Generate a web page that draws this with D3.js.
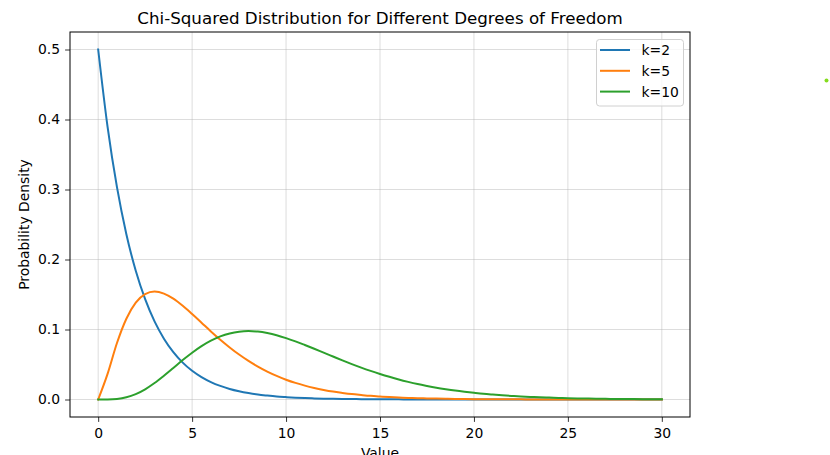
<!DOCTYPE html>
<html><head><meta charset="utf-8">
<script src="https://cdn.jsdelivr.net/npm/d3@7"></script>
<style>body{margin:0;background:#fff;} svg{display:block;font-family:"DejaVu Sans",sans-serif;}</style>
</head><body><svg id="c" width="830" height="455"></svg>
<script>
const xValues = [0,0.5,1,1.5,2,2.5,3,3.5,4,4.5,5,5.5,6,6.5,7,7.5,8,8.5,9,9.5,10,10.5,11,11.5,12,12.5,13,13.5,14,14.5,15,15.5,16,16.5,17,17.5,18,18.5,19,19.5,20,20.5,21,21.5,22,22.5,23,23.5,24,24.5,25,25.5,26,26.5,27,27.5,28,28.5,29,29.5,30];
const k2 = [0.5,0.3894,0.3033,0.2362,0.1839,0.1433,0.1116,0.0869,0.0677,0.0527,0.0410,0.0320,0.0249,0.0194,0.0151,0.0118,0.0092,0.0071,0.0056,0.0043,0.0034,0.0026,0.0020,0.0016,0.0012,0.0010,0.0008,0.0006,0.0005,0.0004,0.0003,0.0002,0.0002,0.0001,0.0001,0.0001,0.0001,0,0,0,0,0,0,0,0,0,0,0,0,0,0,0,0,0,0,0,0,0,0,0,0];
const k5 = [0,0.0366,0.0807,0.1154,0.1384,0.1506,0.1542,0.1513,0.1440,0.1338,0.1220,0.1097,0.0973,0.0854,0.0744,0.0642,0.0551,0.0470,0.0399,0.0337,0.0283,0.0237,0.0198,0.0165,0.0137,0.0113,0.0094,0.0077,0.0064,0.0052,0.0043,0.0035,0.0029,0.0023,0.0019,0.0015,0.0013,0.0010,0.0008,0.0007,0.0005,0.0004,0.0004,0.0003,0.0002,0.0002,0.0001,0.0001,0.0001,0.0001,0,0,0,0,0,0,0,0,0,0,0];
const k10 = [0,0.0001,0.0008,0.0031,0.0077,0.0146,0.0235,0.0340,0.0451,0.0563,0.0668,0.0762,0.0840,0.0901,0.0944,0.0969,0.0977,0.0970,0.0949,0.0918,0.0877,0.0831,0.0779,0.0725,0.0669,0.0614,0.0559,0.0506,0.0456,0.0409,0.0365,0.0324,0.0286,0.0252,0.0221,0.0194,0.0169,0.0147,0.0127,0.0110,0.0095,0.0081,0.0070,0.0060,0.0051,0.0043,0.0037,0.0031,0.0027,0.0022,0.0019,0.0016,0.0013,0.0011,0.0009,0.0008,0.0007,0.0006,0.0005,0.0004,0.0003];
const seriesNames = ["k=2","k=5","k=10"];
const seriesColors = ["#1f77b4","#ff7f0e","#2ca02c"];
const xTicks = [0,5,10,15,20,25,30];
const yTicks = [0.0,0.1,0.2,0.3,0.4,0.5];
const titleText = "Chi-Squared Distribution for Different Degrees of Freedom";
const xLabel = "Value", yLabel = "Probability Density";

const svg = d3.select("#c");
const L=70, R=690, T=32, B=417;
const FS = 13.9;
const x = d3.scaleLinear().domain([-1.5,31.5]).range([L,R]);
const y = d3.scaleLinear().domain([-0.025,0.525]).range([B,T]);

// grid
const g = svg.append("g");
g.selectAll(".gx").data(xTicks).join("line").attr("x1",d=>x(d)).attr("x2",d=>x(d)).attr("y1",T).attr("y2",B).attr("stroke","#b0b0b0").attr("stroke-opacity",0.55).attr("stroke-width",0.8);
g.selectAll(".gy").data(yTicks).join("line").attr("y1",d=>y(d)).attr("y2",d=>y(d)).attr("x1",L).attr("x2",R).attr("stroke","#b0b0b0").attr("stroke-opacity",0.55).attr("stroke-width",0.8);

// lines
const all = [k2,k5,k10];
const line = d3.line().x((d,i)=>x(xValues[i])).y(d=>y(d)).curve(d3.curveMonotoneX);
all.forEach((s,i)=>{
  svg.append("path").attr("d",line(s)).attr("fill","none").attr("stroke",seriesColors[i]).attr("stroke-width",2).attr("stroke-linejoin","round").attr("stroke-linecap","square");
});

// axes
const xa = svg.append("g").attr("transform",`translate(0,${B})`).call(d3.axisBottom(x).tickValues(xTicks).tickFormat(d3.format("d")).tickSize(4.9).tickPadding(6));
const ya = svg.append("g").attr("transform",`translate(${L},0)`).call(d3.axisLeft(y).tickValues(yTicks).tickFormat(d3.format(".1f")).tickSize(4.9).tickPadding(5));
[xa,ya].forEach(a=>{a.select(".domain").remove(); a.selectAll("text").attr("font-size",FS).attr("font-family","DejaVu Sans").attr("fill","#000"); a.selectAll("line").attr("stroke","#000").attr("stroke-width",0.8);});
svg.append("rect").attr("x",L).attr("y",T).attr("width",R-L).attr("height",B-T).attr("fill","none").attr("stroke","#000").attr("stroke-width",1);

// texts
svg.append("text").attr("x",(L+R)/2).attr("y",24).attr("text-anchor","middle").attr("font-size",16.7).text(titleText);
svg.append("text").attr("x",(L+R)/2).attr("y",457.5).attr("text-anchor","middle").attr("font-size",FS).text(xLabel);
svg.append("text").attr("transform",`translate(29,${(T+B)/2}) rotate(-90)`).attr("text-anchor","middle").attr("font-size",FS).text(yLabel);

// legend
const lg = svg.append("g");
lg.append("rect").attr("x",596.5).attr("y",39.5).attr("width",87).attr("height",66.5).attr("rx",3).attr("fill","#fff").attr("fill-opacity",0.8).attr("stroke","#d0d0d0").attr("stroke-width",1);
seriesNames.forEach((n,i)=>{
  const yy = 50 + i*20.8;
  lg.append("line").attr("x1",600).attr("x2",630).attr("y1",yy).attr("y2",yy).attr("stroke",seriesColors[i]).attr("stroke-width",2);
  lg.append("text").attr("x",641.5).attr("y",yy+5).attr("font-size",FS).text(n);
});

// stray dot
svg.append("circle").attr("cx",826.5).attr("cy",80.5).attr("r",2).attr("fill","#84dc1e");
</script></body></html>
